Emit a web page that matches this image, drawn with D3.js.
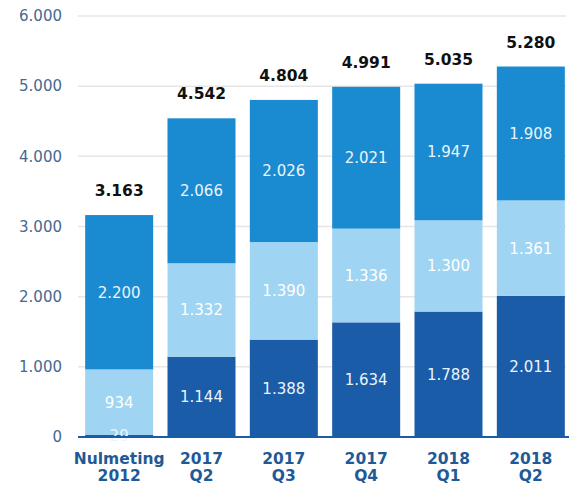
<!DOCTYPE html>
<html><head><meta charset="utf-8">
<script src="https://cdn.jsdelivr.net/npm/d3@7/dist/d3.min.js"></script>
<style>body{margin:0;background:#fff;}svg{display:block;}</style>
</head><body>
<svg id="c" width="569" height="486"></svg>
<script>
const categories = [["Nulmeting","2012"],["2017","Q2"],["2017","Q3"],["2017","Q4"],["2018","Q1"],["2018","Q2"]];
const seriesBottom = [29, 1144, 1388, 1634, 1788, 2011];
const seriesMiddle = [934, 1332, 1390, 1336, 1300, 1361];
const seriesTop = [2200, 2066, 2026, 2021, 1947, 1908];
const totals = [3163, 4542, 4804, 4991, 5035, 5280];
const yTicks = [0, 1000, 2000, 3000, 4000, 5000, 6000];

const colors = ["#1a5ca8", "#9fd4f2", "#1a8bd0"];
const fmt = v => d3.format(",")(v).replace(/,/g, ".");
const font = "'DejaVu Sans', Verdana, sans-serif";

const svg = d3.select("#c");
const x = d3.scaleBand().domain(categories.map((d,i)=>i)).range([78, 572]).paddingInner(0.174).paddingOuter(0.087);
const y = d3.scaleLinear().domain([0, 6000]).range([437, 16]);

// gridlines
svg.append("g").selectAll("line").data(yTicks.slice(1)).join("line")
  .attr("x1", 78).attr("x2", 566).attr("y1", d=>y(d)).attr("y2", d=>y(d))
  .attr("stroke", "#e6e6e6").attr("stroke-width", 1.5);

// y axis labels
const yAxis = d3.axisLeft(y).tickValues(yTicks).tickFormat(fmt).tickSize(0).tickPadding(0);
const ya = svg.append("g").attr("transform", "translate(62,0)").call(yAxis);
ya.select(".domain").remove();
ya.selectAll("text").attr("font-family", font).attr("font-size", 15).attr("fill", "#46698f");

const rows = categories.map((c,i)=>({i, b: seriesBottom[i], m: seriesMiddle[i], t: seriesTop[i]}));
const stack = d3.stack().keys(["b","m","t"])(rows);

stack.forEach((layer, li) => {
  svg.append("g").selectAll("rect").data(layer).join("rect")
    .attr("x", d=>x(d.data.i)).attr("width", x.bandwidth())
    .attr("y", d=>y(d[1])).attr("height", d=>y(d[0])-y(d[1]))
    .attr("fill", colors[li]);
});
stack.forEach((layer, li) => {
  svg.append("g").selectAll("text").data(layer).join("text")
    .attr("x", d=>x(d.data.i)+x.bandwidth()/2)
    .attr("y", d=>(y(d[0])+y(d[1]))/2)
    .attr("dy", "0.36em").attr("text-anchor", "middle")
    .attr("font-family", font).attr("font-size", 15)
    .attr("fill", li===1 ? "#ffffff" : "#eaf4fb")
    .text(d=>fmt(d[1]-d[0]));
});

// totals
svg.append("g").selectAll("text").data(totals).join("text")
  .attr("x", (d,i)=>x(i)+x.bandwidth()/2).attr("y", d=>y(d)-19)
  .attr("text-anchor", "middle").attr("font-family", font).attr("font-size", 15.5)
  .attr("font-weight", "bold").attr("fill", "#111").text(d=>fmt(d));

// baseline
svg.append("line").attr("x1", 78).attr("x2", 569).attr("y1", y(0)).attr("y2", y(0))
  .attr("stroke", "#1a5ca8").attr("stroke-width", 2);

// x labels
const xa = svg.append("g").selectAll("text").data(categories).join("text")
  .attr("text-anchor", "middle").attr("font-family", font).attr("font-size", 15.5)
  .attr("font-weight", "bold").attr("fill", "#1f5a97");
xa.each(function(d,i){
  const t = d3.select(this);
  d.forEach((line, k) => t.append("tspan").attr("x", x(i)+x.bandwidth()/2).attr("y", 464 + k*17).text(line));
});
</script>
</body></html>
